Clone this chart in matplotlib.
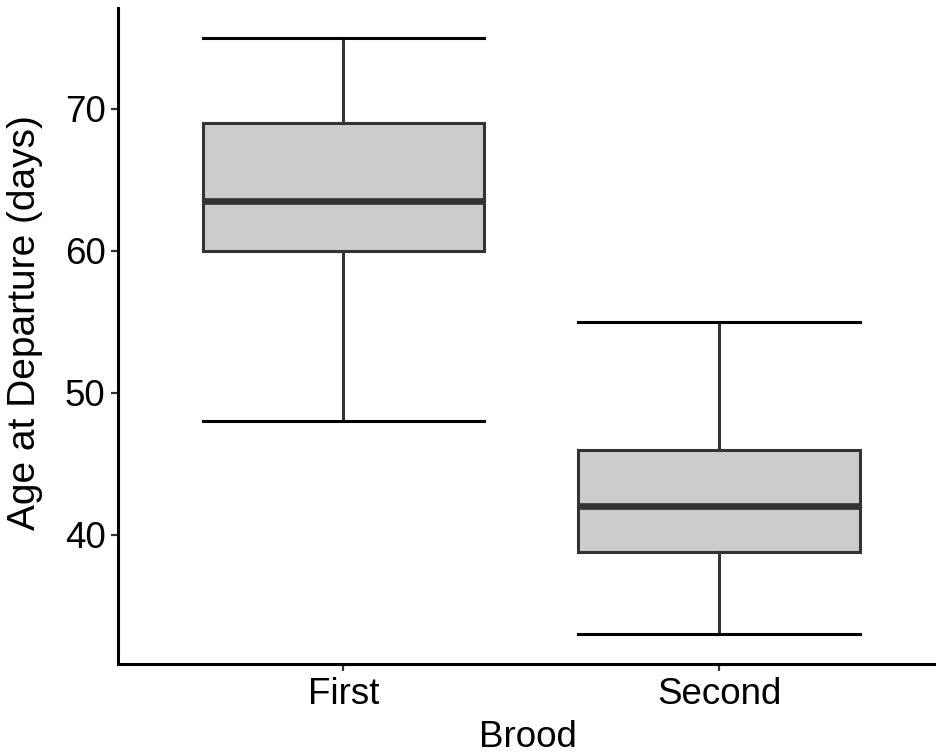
import numpy as np
import matplotlib.pyplot as plt

plt.rcParams['font.family'] = ['Liberation Sans', 'DejaVu Sans']

# summary statistics per brood (days)
broods = ['First', 'Second']
lower_whisker = [48, 33]
q1 = [60, 38.8]
median = [63.5, 42]
q3 = [69, 46]
upper_whisker = [75, 55]

stats = []
for i, name in enumerate(broods):
    stats.append(dict(label=name, whislo=lower_whisker[i], q1=q1[i], med=median[i],
                      q3=q3[i], whishi=upper_whisker[i], fliers=[]))

fig = plt.figure(figsize=(9.37, 7.55), dpi=100)
ax = fig.add_axes([118/937, 1-664/755, 1-118/937, (664-8)/755])

pos = np.arange(1, len(broods)+1)
ax.bxp(stats, positions=pos, widths=0.75, capwidths=0.75, patch_artist=True,
       boxprops=dict(facecolor='#CCCCCC', edgecolor='#333333', linewidth=2.2),
       medianprops=dict(color='#333333', linewidth=4.8, solid_capstyle='butt'),
       whiskerprops=dict(color='#333333', linewidth=2.2),
       capprops=dict(color='black', linewidth=2.2))

ax.set_xlim(0.4, 2.58)
ax.set_ylim(30.9, 77.1)
ax.set_yticks([40, 50, 60, 70])
ax.set_xticks(pos)
ax.set_xticklabels(broods)

for s in ['top', 'right']:
    ax.spines[s].set_visible(False)
for s in ['left', 'bottom']:
    ax.spines[s].set_linewidth(2.2)
    ax.spines[s].set_color('black')

ax.tick_params(axis='both', length=5, width=1.6, color='#333333',
               labelsize=26.5, labelcolor='black', pad=4)
ax.set_xlabel('Brood', fontsize=26.5, labelpad=6)
ax.set_ylabel('Age at Departure (days)', fontsize=28)
ax.yaxis.set_label_coords(-0.092, 0.52)

fig.savefig('out.png', dpi=100)
